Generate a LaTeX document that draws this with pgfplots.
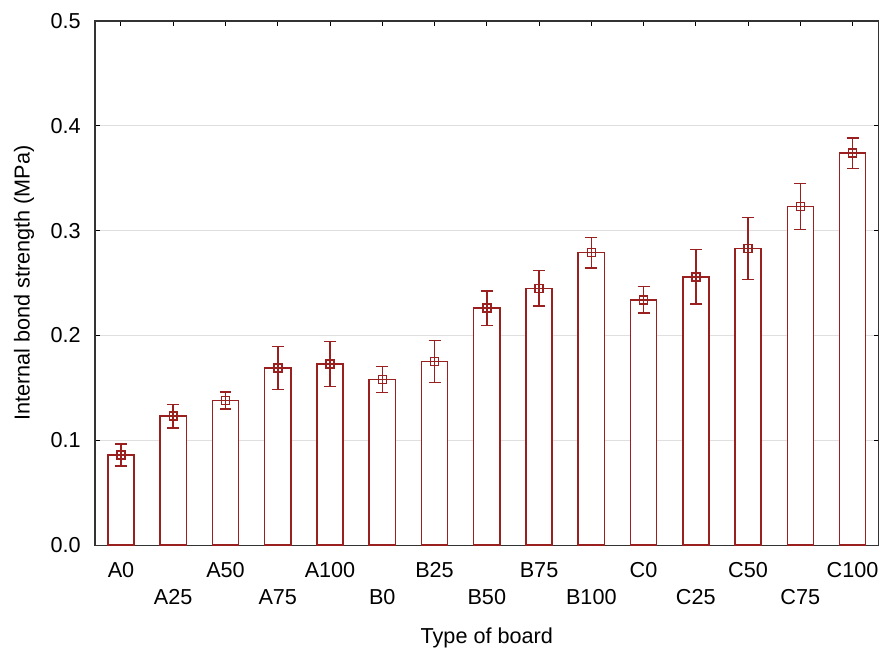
\documentclass[border=0pt]{standalone}
\usepackage{fontspec}
\setmainfont{Liberation Sans}
\usepackage{pgfplots}
\pgfplotsset{compat=1.18}
\definecolor{barred}{HTML}{9A1F1F}

\begin{document}
\begin{tikzpicture}
\begin{axis}[name=ax,scale only axis,width=471pt,height=315pt,
 xmin=-0.5,xmax=14.5,ymin=0,ymax=0.5,
 xtick={0,...,14},
 xticklabels={A0,\strut\\A25,A50,\strut\\A75,A100,\strut\\B0,B25,\strut\\B50,B75,\strut\\B100,C0,\strut\\C25,C50,\strut\\C75,C100},
 xticklabel style={align=center,font=\fontsize{13}{14.8}\selectfont,yshift=-7pt},
 ytick={0,0.1,0.2,0.3,0.4,0.5},
 yticklabel style={font=\fontsize{13}{15}\selectfont,xshift=-5pt,/pgf/number format/.cd,fixed,fixed zerofill,precision=1},
 /pgf/number format/assume math mode=true,
 tick align=inside,major tick length=3pt,
 tick style={black,line width=0.6pt},
 ymajorgrids,grid style={gray!25,line width=0.8pt},
 axis line style={black!80,line width=0.8pt},
 xlabel={Type of board},ylabel={Internal bond strength (MPa)},
 label style={font=\fontsize{13}{15}\selectfont},
 xlabel style={yshift=-7pt},
 ylabel style={yshift=3pt},
 clip=false]
\addplot[ybar,bar width=0.5,bar shift=0pt,draw=barred,fill=white,line width=0.9pt,
 error bars/.cd,y dir=both,y explicit,
 error bar style={barred,line width=0.9pt},
 error mark options={barred,rotate=90,mark size=3.6pt,line width=0.9pt}]
 coordinates {
 (0,0.086) +- (0,0.0105)
 (1,0.123) +- (0,0.011)
 (2,0.138) +- (0,0.008)
 (3,0.169) +- (0,0.0205)
 (4,0.173) +- (0,0.0215)
 (5,0.158) +- (0,0.0125)
 (6,0.175) +- (0,0.020)
 (7,0.226) +- (0,0.0165)
 (8,0.245) +- (0,0.017)
 (9,0.279) +- (0,0.0145)
 (10,0.234) +- (0,0.0125)
 (11,0.256) +- (0,0.026)
 (12,0.283) +- (0,0.0295)
 (13,0.323) +- (0,0.022)
 (14,0.374) +- (0,0.0145)
 };
\addplot[only marks,mark=square,mark size=2.4pt,barred,line width=0.9pt]
 coordinates {
 (0,0.086) (1,0.123) (2,0.138) (3,0.169) (4,0.173) (5,0.158) (6,0.175)
 (7,0.226) (8,0.245) (9,0.279) (10,0.234) (11,0.256) (12,0.283) (13,0.323) (14,0.374)
 };
\end{axis}
\path (ax.south west) ++(-57pt,-64.8pt);
\path (ax.north east) ++(2.4pt,12.6pt);
\end{tikzpicture}
\end{document}
